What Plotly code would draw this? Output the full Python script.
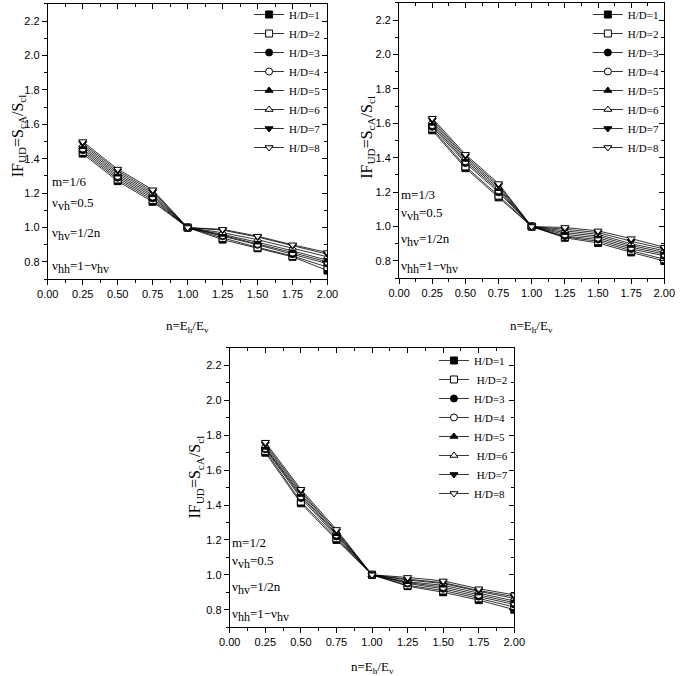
import plotly.graph_objects as go

W, H = 685, 676

n = [0.25, 0.5, 0.75, 1.0, 1.25, 1.5, 1.75, 2.0]

# m = 1/6
m6 = {
    1: [1.43, 1.27, 1.15, 1.0, 0.93, 0.88, 0.83, 0.75],
    2: [1.44, 1.28, 1.16, 1.0, 0.94, 0.885, 0.835, 0.77],
    3: [1.45, 1.29, 1.17, 1.0, 0.95, 0.90, 0.845, 0.79],
    4: [1.46, 1.30, 1.18, 1.0, 0.955, 0.905, 0.855, 0.80],
    5: [1.47, 1.31, 1.19, 1.0, 0.96, 0.915, 0.865, 0.81],
    6: [1.48, 1.32, 1.20, 1.0, 0.97, 0.93, 0.88, 0.83],
    7: [1.49, 1.33, 1.21, 1.0, 0.985, 0.945, 0.895, 0.845],
    8: [1.50, 1.34, 1.22, 1.0, 0.99, 0.95, 0.90, 0.855],
}
# m = 1/3
m3 = {
    1: [1.56, 1.34, 1.17, 1.0, 0.935, 0.905, 0.85, 0.80],
    2: [1.57, 1.35, 1.18, 1.0, 0.94, 0.915, 0.86, 0.81],
    3: [1.58, 1.37, 1.20, 1.0, 0.945, 0.925, 0.87, 0.83],
    4: [1.59, 1.38, 1.21, 1.0, 0.955, 0.935, 0.88, 0.84],
    5: [1.60, 1.39, 1.22, 1.0, 0.965, 0.945, 0.89, 0.85],
    6: [1.61, 1.40, 1.23, 1.0, 0.975, 0.955, 0.90, 0.86],
    7: [1.62, 1.41, 1.24, 1.0, 0.985, 0.965, 0.915, 0.87],
    8: [1.63, 1.42, 1.25, 1.0, 0.995, 0.975, 0.93, 0.88],
}
# m = 1/2
m2 = {
    1: [1.70, 1.41, 1.20, 1.0, 0.935, 0.90, 0.855, 0.80],
    2: [1.71, 1.42, 1.21, 1.0, 0.94, 0.91, 0.865, 0.815],
    3: [1.72, 1.44, 1.22, 1.0, 0.95, 0.92, 0.875, 0.83],
    4: [1.725, 1.45, 1.23, 1.0, 0.955, 0.93, 0.885, 0.84],
    5: [1.73, 1.46, 1.235, 1.0, 0.96, 0.94, 0.895, 0.85],
    6: [1.74, 1.47, 1.245, 1.0, 0.97, 0.95, 0.905, 0.865],
    7: [1.75, 1.48, 1.25, 1.0, 0.975, 0.955, 0.91, 0.875],
    8: [1.76, 1.49, 1.26, 1.0, 0.985, 0.965, 0.92, 0.885],
}

symbols = {1: ("square", True), 2: ("square", False), 3: ("circle", True), 4: ("circle", False),
           5: ("triangle-up", True), 6: ("triangle-up", False), 7: ("triangle-down", True),
           8: ("triangle-down", False)}

# panel boxes in pixels: left, right, top, bottom
panels = [
    dict(data=m6, m="1/6", box=(38, 327, 2, 278), leg=(246, -2), pad=[], xt=325,
         yt=(8, 134), notes=[(40, 180), (40, 203), (40, 233), (40, 266)]),
    dict(data=m3, m="1/3", box=(401, 675, 1, 277), leg=(596, -2), pad=[], xt=325,
         yt=(368, 136), notes=[(401, 193), (401, 213), (401, 239), (401, 266)]),
    dict(data=m2, m="1/2", box=(226, 520, 347, 627), leg=(437, 345), pad=[2, 6, 7], xt=667,
         yt=(191, 476), notes=[(226, 542), (226, 562), (226, 588), (226, 615)]),
]

TIMES = "Liberation Serif, Times New Roman, serif"
ARIAL = "Liberation Sans, Arial, sans-serif"


def big_sub(s):
    return "<sub><span style='font-size:12px'>%s</span></sub>" % s


fig = go.Figure()
layout = {}
annotations = []

for i, p in enumerate(panels, start=1):
    l, r, t, b = p["box"]
    xd = [l / W, r / W]
    yd = [1 - b / H, 1 - t / H]
    leg = "legend" if i == 1 else "legend%d" % i
    for hd in range(1, 9):
        sym, filled = symbols[hd]
        name = "H/D=%d" % hd
        if hd in p["pad"]:
            name = "\u00a0" + name
        fig.add_trace(go.Scatter(
            x=n, y=p["data"][hd], mode="lines+markers", name=name,
            xaxis="x%d" % i, yaxis="y%d" % i, legend=leg,
            line=dict(color="black", width=0.8),
            marker=dict(symbol=sym, size=7, color="black" if filled else "white",
                        line=dict(color="black", width=1)),
        ))
    common = dict(showline=True, linecolor="black", linewidth=1, showgrid=False,
                  zeroline=False, ticks="outside", ticklen=5, tickcolor="black",
                  tickfont=dict(family=ARIAL, size=11, color="black"))
    layout["xaxis%d" % i] = dict(common, domain=xd, anchor="y%d" % i, range=[0, 2.0],
                                 dtick=0.25, tick0=0, tickformat=".2f",
                                 minor=dict(dtick=0.125, ticks="outside", ticklen=3,
                                            tickcolor="black"))
    layout["yaxis%d" % i] = dict(common, domain=yd, anchor="x%d" % i, range=[0.7, 2.3],
                                 dtick=0.2, tick0=0, tickformat=".1f",
                                 minor=dict(dtick=0.1, ticks="outside", ticklen=3,
                                            tickcolor="black"))
    # mirrored frame with inside ticks
    j = i + 3
    layout["xaxis%d" % j] = dict(overlaying="x%d" % i, side="top", anchor="y%d" % i,
                                 range=[0, 2.0], dtick=0.25, tick0=0, showticklabels=False,
                                 showline=True, linecolor="black", linewidth=1, showgrid=False,
                                 zeroline=False, ticks="inside", ticklen=5, tickcolor="black",
                                 minor=dict(dtick=0.125, ticks="inside", ticklen=3,
                                            tickcolor="black"))
    layout["yaxis%d" % j] = dict(overlaying="y%d" % i, side="right", anchor="x%d" % i,
                                 range=[0.7, 2.3], dtick=0.2, tick0=0, showticklabels=False,
                                 showline=True, linecolor="black", linewidth=1, showgrid=False,
                                 zeroline=False, ticks="inside", ticklen=5, tickcolor="black",
                                 minor=dict(dtick=0.1, ticks="inside", ticklen=3,
                                            tickcolor="black"))
    fig.add_trace(go.Scatter(x=[None], y=[None], xaxis="x%d" % j, yaxis="y%d" % j,
                             showlegend=False, hoverinfo="skip"))
    lx, ly = p["leg"]
    layout[leg] = dict(x=lx / W, y=1 - ly / H, xanchor="left", yanchor="top",
                       bgcolor="rgba(0,0,0,0)", itemwidth=30,
                       font=dict(family=TIMES, size=11, color="black"))

    # axis titles
    annotations.append(dict(text="n=E<sub>h</sub>/E<sub>v</sub>", xref="paper", yref="paper",
                            x=(l + r) / 2 / W, y=1 - p["xt"] / H, showarrow=False,
                            xanchor="center", yanchor="middle",
                            font=dict(family=TIMES, size=13, color="black")))
    tx, ty = p["yt"]
    annotations.append(dict(text="IF<sub>UD</sub>=S<sub>cA</sub>/S<sub>cl</sub>", xref="paper",
                            yref="paper", x=tx / W, y=1 - ty / H,
                            xanchor="center", yanchor="middle",
                            showarrow=False, textangle=-90,
                            font=dict(family=TIMES, size=16, color="black")))
    texts = ["m=" + p["m"], "\u03bd" + big_sub("vh") + "=0.5", "\u03bd" + big_sub("hv") + "=1/2n",
             "\u03bd" + big_sub("hh") + "=1\u2212\u03bd" + big_sub("hv")]
    for txt, (ax, ay) in zip(texts, p["notes"]):
        annotations.append(dict(text=txt, xref="paper", yref="paper", x=ax / W, y=1 - ay / H,
                                xanchor="left", yanchor="middle", showarrow=False,
                                font=dict(family=TIMES, size=13, color="black")))

fig.update_layout(**layout)
fig.update_layout(width=W, height=H, margin=dict(l=0, r=0, t=0, b=0),
                  paper_bgcolor="white", plot_bgcolor="white",
                  annotations=annotations, showlegend=True)

fig.write_html("out.html", config={"displayModeBar": False},
               post_script="document.body.style.margin='0px';")
